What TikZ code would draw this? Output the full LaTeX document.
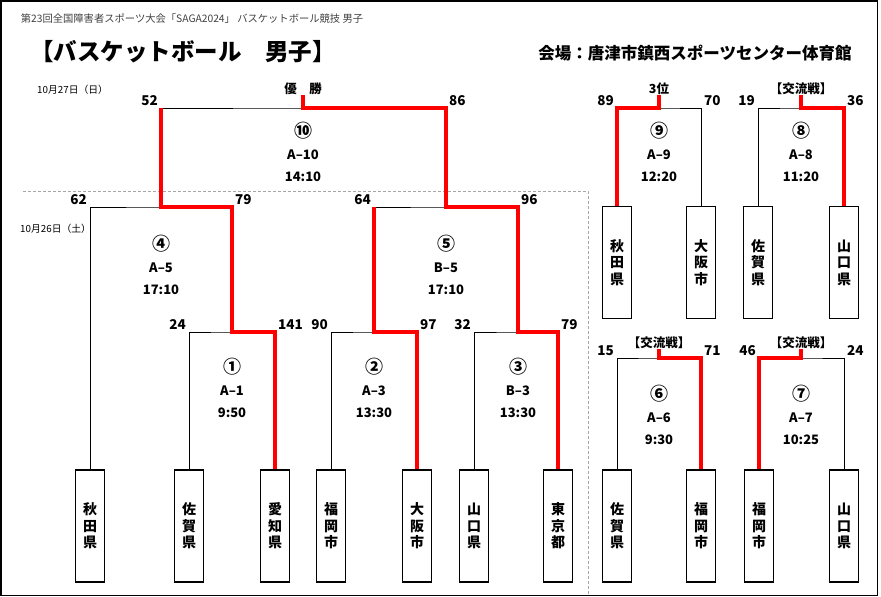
\documentclass[tikz,border=0pt]{standalone}
\usepackage{fontspec}
\setmainfont{Noto Sans CJK JP}
\usetikzlibrary{positioning}

\newcommand{\mno}[1]{{\fontsize{18}{22}\selectfont #1}}

\tikzset{
  team/.style={draw, line width=1.6pt, minimum width=29pt, minimum height=112pt, inner sep=0pt, align=center, font=\fontsize{14}{16.5}\selectfont\bfseries},
  info/.style={align=center, font=\fontsize{13}{22}\selectfont\bfseries},
  lsc/.style={anchor=base east, xshift=-3pt, yshift=2.5pt, inner sep=0pt, font=\fontsize{13.5}{14}\selectfont\bfseries},
  rsc/.style={anchor=base west, xshift=3pt, yshift=2.5pt, inner sep=0pt, font=\fontsize{13.5}{14}\selectfont\bfseries},
  head/.style={inner sep=0pt, font=\fontsize{12.5}{14}\selectfont\bfseries},
  date/.style={anchor=west, inner sep=0pt, font=\fontsize{9.8}{11}\selectfont},
  tie/.style={line width=0.8pt},
  win/.style={red, line width=3.2pt}
}

\begin{document}
\begin{tikzpicture}[x=1pt, y=-1pt]
	\useasboundingbox (0,0) rectangle (881,597);
	\draw[line width=1.3pt] (1,1) rectangle (877.5,595.5);
	\draw[gray!70, dash pattern=on 3pt off 2pt, line width=0.6pt] (23,191) -- (588,191) -- (588,595);

	% headings
	\node[font=\fontsize{10.3}{12}\selectfont, black!75] (top) at (192,19) {第23回全国障害者スポーツ大会「SAGA2024」 バスケットボール競技 男子};
	\node[font=\fontsize{23.5}{26}\selectfont\bfseries] (ttl) at (183,52) {【バスケットボール　男子】};
	\node[font=\fontsize{16.5}{18}\selectfont\bfseries] (hall) at (695,53) {会場：唐津市鎮西スポーツセンター体育館};
	\node[date] (d27) at (37,90) {10月27日（日）};
	\node[date] (d26) at (20,229) {10月26日（土）};

	% teams
	\node[team] (b1) at (90,526) {秋\\田\\県};
	\node[team] (b2) at (189,526) {佐\\賀\\県};
	\node[team] (b3) at (275,526) {愛\\知\\県};
	\node[team] (b4) at (331,526) {福\\岡\\市};
	\node[team] (b5) at (417,526) {大\\阪\\市};
	\node[team] (b6) at (474,526) {山\\口\\県};
	\node[team] (b7) at (558,526) {東\\京\\都};
	\node[team] (c1) at (617,262.5) {秋\\田\\県};
	\node[team] (c2) at (701,262.5) {大\\阪\\市};
	\node[team] (c3) at (758,262.5) {佐\\賀\\県};
	\node[team] (c4) at (844,262.5) {山\\口\\県};
	\node[team] (d1) at (617,526) {佐\\賀\\県};
	\node[team] (d2) at (701,526) {福\\岡\\市};
	\node[team] (d3) at (759,526) {福\\岡\\市};
	\node[team] (d4) at (844,526) {山\\口\\県};

	% junctions
	\coordinate (m10) at (303,108);
	\coordinate (m4) at (161,207);
	\coordinate (m5) at (446,207);
	\coordinate (m1) at (232,332);
	\coordinate (m2) at (374,332);
	\coordinate (m3) at (518,332);
	\coordinate (m9) at (659,108);
	\coordinate (m8) at (801,108);
	\coordinate (m6) at (659,358);
	\coordinate (m7) at (801,358);

	\node[head, above=13pt of m10] (champ) {優　勝};
	\node[head, above=13pt of m9] (p3) {3位};
	\node[head, above=13pt of m8] (k8) {【交流戦】};
	\node[head, above=9pt of m6] (k6) {【交流戦】};
	\node[head, above=9pt of m7] (k7) {【交流戦】};

	% match info
	\node[info] (i10) at (303,152) {\mno{⑩}\\A–10\\14:10};
	\node[info] (i4) at (161,265) {\mno{④}\\A–5\\17:10};
	\node[info] (i5) at (446,265) {\mno{⑤}\\B–5\\17:10};
	\node[info] (i1) at (232,388) {\mno{①}\\A–1\\9:50};
	\node[info] (i2) at (374,388) {\mno{②}\\A–3\\13:30};
	\node[info] (i3) at (518,388) {\mno{③}\\B–3\\13:30};
	\node[info] (i9) at (659,152) {\mno{⑨}\\A–9\\12:20};
	\node[info] (i8) at (801,152) {\mno{⑧}\\A–8\\11:20};
	\node[info] (i6) at (659,415) {\mno{⑥}\\A–6\\9:30};
	\node[info] (i7) at (801,415) {\mno{⑦}\\A–7\\10:25};

	% brackets
	\draw[tie] (m4) |- (m10) -| (m5);
	\draw[tie] (b1.north) |- (m4) -| (m1);
	\draw[tie] (m2) |- (m5) -| (m3);
	\draw[tie] (b2.north) |- (m1) -| (b3.north);
	\draw[tie] (b4.north) |- (m2) -| (b5.north);
	\draw[tie] (b6.north) |- (m3) -| (b7.north);
	\draw[tie] (c1.north) |- (m9) -| (c2.north);
	\draw[tie] (c3.north) |- (m8) -| (c4.north);
	\draw[tie] (d1.north) |- (m6) -| (d2.north);
	\draw[tie] (d3.north) |- (m7) -| (d4.north);

	% winners
	\draw[win] (champ.south) -- (m10) -| (m5) -| (m3) -| (b7.north);
	\draw[win] (m4 |- m10) -- (m4) -| (m1) -| (b3.north);
	\draw[win] (m2 |- m5) -- (m2) -| (b5.north);
	\draw[win] (p3.south) -- (m9) -| (c1.north);
	\draw[win] (k8.south) -- (m8) -| (c4.north);
	\draw[win] (k6.south) -- (m6) -| (d2.north);
	\draw[win] (k7.south) -- (m7) -| (d3.north);

	% scores
	\node[lsc] (s10l) at (m4 |- m10) {52};
	\node[rsc] (s10r) at (m5 |- m10) {86};
	\node[lsc] (s4l) at (b1.north |- m4) {62};
	\node[rsc] (s4r) at (m1 |- m4) {79};
	\node[lsc] (s5l) at (m2 |- m5) {64};
	\node[rsc] (s5r) at (m3 |- m5) {96};
	\node[lsc] (s1l) at (b2.north |- m1) {24};
	\node[rsc] (s1r) at (b3.north |- m1) {141};
	\node[lsc] (s2l) at (b4.north |- m2) {90};
	\node[rsc] (s2r) at (b5.north |- m2) {97};
	\node[lsc] (s3l) at (b6.north |- m3) {32};
	\node[rsc] (s3r) at (b7.north |- m3) {79};
	\node[lsc] (s9l) at (c1.north |- m9) {89};
	\node[rsc] (s9r) at (c2.north |- m9) {70};
	\node[lsc] (s8l) at (c3.north |- m8) {19};
	\node[rsc] (s8r) at (c4.north |- m8) {36};
	\node[lsc] (s6l) at (d1.north |- m6) {15};
	\node[rsc] (s6r) at (d2.north |- m6) {71};
	\node[lsc] (s7l) at (d3.north |- m7) {46};
	\node[rsc] (s7r) at (d4.north |- m7) {24};
\end{tikzpicture}
\end{document}
